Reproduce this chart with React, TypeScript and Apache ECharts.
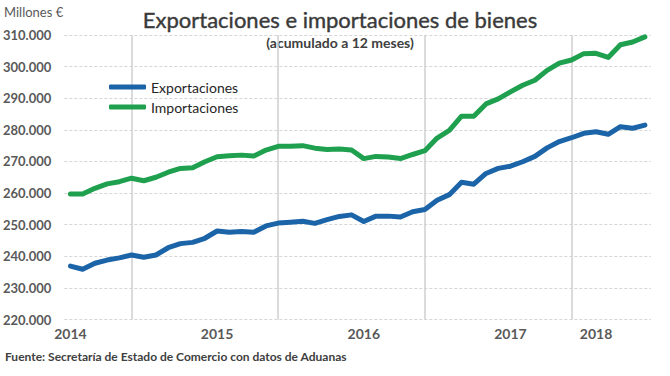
import React, { useEffect, useRef } from "react";
import * as echarts from "echarts";

const months = [
  "jul-14", "ago-14", "sep-14", "oct-14", "nov-14", "dic-14",
  "ene-15", "feb-15", "mar-15", "abr-15", "may-15", "jun-15",
  "jul-15", "ago-15", "sep-15", "oct-15", "nov-15", "dic-15",
  "ene-16", "feb-16", "mar-16", "abr-16", "may-16", "jun-16",
  "jul-16", "ago-16", "sep-16", "oct-16", "nov-16", "dic-16",
  "ene-17", "feb-17", "mar-17", "abr-17", "may-17", "jun-17",
  "jul-17", "ago-17", "sep-17", "oct-17", "nov-17", "dic-17",
  "ene-18", "feb-18", "mar-18", "abr-18", "may-18", "jun-18",
];

const exportaciones = [
  236900, 235900, 237800, 238800, 239500, 240400,
  239700, 240400, 242700, 244000, 244400, 245700,
  248000, 247600, 247800, 247600, 249600, 250500,
  250800, 251100, 250400, 251600, 252600, 253100,
  251000, 252700, 252700, 252400, 254100, 254800,
  257700, 259500, 263400, 262800, 266200, 267800,
  268500, 269900, 271600, 274300, 276300, 277500,
  278900, 279400, 278600, 281000, 280500, 281500,
];

const importaciones = [
  259700, 259700, 261500, 262900, 263600, 264700,
  263900, 265000, 266600, 267800, 268000, 269900,
  271500, 271800, 272000, 271700, 273600, 274800,
  274800, 275000, 274200, 273800, 273900, 273600,
  270900, 271600, 271400, 270900, 272200, 273400,
  277400, 279800, 284300, 284300, 288200, 289800,
  292000, 294100, 295700, 298800, 301100, 302100,
  304100, 304200, 302900, 306900, 307800, 309400,
];

const yearLabelIndex = [0, 12, 24, 36, 43];
const yearLabels = ["2014", "2015", "2016", "2017", "2018"];
const yearEndIndex = [5, 17, 29, 41];

const FONT = "Lato, 'Open Sans', sans-serif";

export default function App() {
  const ref = useRef<HTMLDivElement>(null);

  useEffect(() => {
    if (!ref.current) return;
    const chart = echarts.init(ref.current, undefined, { renderer: "svg" });
    const fmt = (v: number) =>
      `${Math.floor(v / 1000)}.${String(Math.round(v % 1000)).padStart(3, "0")}`;

    chart.setOption({
      animation: false,
      backgroundColor: "#ffffff",
      textStyle: { fontFamily: FONT },
      grid: { left: 61, right: 19, top: 35, bottom: 56.5, containLabel: false },
      legend: {
        data: ["Exportaciones", "Importaciones"],
        orient: "vertical",
        left: 104,
        top: 75,
        itemWidth: 37,
        itemHeight: 5,
        itemGap: 6,
        icon: "roundRect",
        textStyle: { fontFamily: FONT, fontSize: 14, color: "#262626" },
      },
      xAxis: {
        type: "category",
        data: months,
        boundaryGap: true,
        axisLine: { show: false },
        axisTick: { show: false },
        splitLine: { show: false },
        axisLabel: {
          interval: 0,
          margin: 7,
          fontFamily: FONT,
          fontSize: 14,
          fontWeight: "bold",
          color: "#595959",
          formatter: (_v: string, idx: number) => {
            const k = yearLabelIndex.indexOf(idx);
            return k >= 0 ? yearLabels[k] : "";
          },
        },
      },
      yAxis: {
        type: "value",
        min: 220000,
        max: 310000,
        interval: 10000,
        axisLine: { show: false },
        axisTick: { show: false },
        splitLine: { lineStyle: { color: "#d6d6d6", type: [3, 2], width: 1 } },
        axisLabel: {
          margin: 13,
          fontFamily: FONT,
          fontSize: 13,
          fontWeight: "bold",
          color: "#595959",
          formatter: fmt,
        },
      },
      series: [
        {
          name: "Exportaciones",
          type: "line",
          data: exportaciones,
          showSymbol: false,
          z: 3,
          color: "#1c64a8",
          lineStyle: { width: 5, color: "#1c64a8", cap: "round", join: "round" },
          emphasis: { disabled: true },
          markLine: {
            silent: true,
            z: 1,
            symbol: ["none", "none"],
            label: { show: false },
            emphasis: { disabled: true },
            lineStyle: { color: "#cfcfcf", width: 1.5, type: "solid" },
            data: yearEndIndex.map((i) => ({ xAxis: months[i] })),
          },
        },
        {
          name: "Importaciones",
          type: "line",
          data: importaciones,
          showSymbol: false,
          z: 3,
          color: "#1fa04e",
          lineStyle: { width: 5, color: "#1fa04e", cap: "round", join: "round" },
          emphasis: { disabled: true },
        },
      ],
      graphic: [
        {
          type: "text",
          x: 340,
          y: 19,
          style: {
            text: "Exportaciones e importaciones de bienes",
            font: `22px ${FONT}`,
            fill: "#3a3a3a",
            stroke: "#3a3a3a",
            lineWidth: 0.4,
            align: "center",
            verticalAlign: "middle",
          },
        },
        {
          type: "text",
          x: 340,
          y: 42,
          style: {
            text: "(acumulado a 12 meses)",
            font: `bold 14px ${FONT}`,
            fill: "#404040",
            align: "center",
            verticalAlign: "middle",
          },
        },
        {
          type: "text",
          x: 4,
          y: 12,
          style: {
            text: "Millones €",
            font: `13px ${FONT}`,
            fill: "#595959",
            align: "left",
            verticalAlign: "middle",
          },
        },
        {
          type: "text",
          x: 5,
          y: 356,
          style: {
            text: "Fuente: Secretaría de Estado de Comercio con datos de Aduanas",
            font: `bold 12px ${FONT}`,
            fill: "#404040",
            align: "left",
            verticalAlign: "middle",
          },
        },
      ],
    });

    return () => chart.dispose();
  }, []);

  return (
    <div
      ref={ref}
      style={{ position: "fixed", left: 0, top: 0, width: 670, height: 376, background: "#fff" }}
    />
  );
}
